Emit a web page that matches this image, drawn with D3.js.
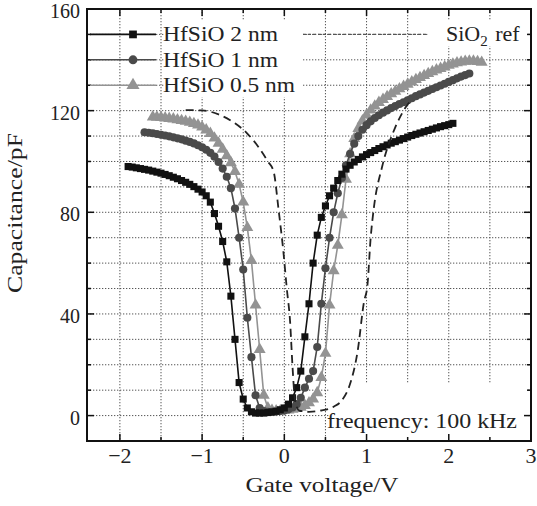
<!DOCTYPE html>
<html>
<head>
<meta charset="utf-8">
<script src="https://d3js.org/d3.v7.min.js"></script>
<style>
    body { margin: 0; background: #fff; }
    text { font-family: "Liberation Serif", "Times New Roman", serif; fill: #222; }
    .grid line { stroke: #555; stroke-width: 1; stroke-dasharray: 1.3, 1.7; }
    .frame { fill: none; stroke: #111; stroke-width: 2; }
    .tick { stroke: #111; stroke-width: 1.5; }
</style>
</head>
<body>
<div id="chart"></div>
<script>
var v2nm = [-1.90,-1.85,-1.80,-1.75,-1.70,-1.65,-1.60,-1.55,-1.50,-1.45,-1.40,-1.35,-1.30,-1.25,-1.20,-1.15,-1.10,-1.05,-1.00,-0.95,-0.90,-0.85,-0.80,-0.75,-0.70,-0.65,-0.60,-0.55,-0.50,-0.45,-0.40,-0.35,-0.30,-0.25,-0.20,-0.15,-0.10,-0.05,0.00,0.05,0.10,0.15,0.20,0.25,0.30,0.35,0.40,0.45,0.50,0.55,0.60,0.65,0.70,0.75,0.80,0.85,0.90,0.95,1.00,1.05,1.10,1.15,1.20,1.25,1.30,1.35,1.40,1.45,1.50,1.55,1.60,1.65,1.70,1.75,1.80,1.85,1.90,1.95,2.00,2.05];
var c2nm = [98.0,97.8,97.5,97.2,96.9,96.6,96.2,95.8,95.4,94.9,94.4,93.8,93.2,92.5,91.8,91.0,90.1,89.1,88.0,86.5,84.0,79.5,74.5,68.5,60.5,47.0,30.0,13.0,6.5,3.0,1.5,1.0,1.0,1.0,1.2,1.4,1.7,2.3,3.0,4.5,7.0,11.0,17.5,31.0,44.0,60.0,71.0,78.0,82.5,86.5,89.5,92.5,95.0,97.0,98.5,99.8,100.8,101.8,102.7,103.5,104.3,105.1,105.8,106.5,107.2,107.8,108.4,109.0,109.6,110.2,110.7,111.2,111.7,112.2,112.7,113.2,113.7,114.1,114.5,115.0];

var v1nm = [-1.70,-1.65,-1.60,-1.55,-1.50,-1.45,-1.40,-1.35,-1.30,-1.25,-1.20,-1.15,-1.10,-1.05,-1.00,-0.95,-0.90,-0.85,-0.80,-0.75,-0.70,-0.65,-0.60,-0.55,-0.50,-0.45,-0.40,-0.35,-0.30,-0.25,-0.20,-0.15,-0.10,-0.05,0.00,0.05,0.10,0.15,0.20,0.25,0.30,0.35,0.40,0.45,0.50,0.55,0.60,0.65,0.70,0.75,0.80,0.85,0.90,0.95,1.00,1.05,1.10,1.15,1.20,1.25,1.30,1.35,1.40,1.45,1.50,1.55,1.60,1.65,1.70,1.75,1.80,1.85,1.90,1.95,2.00,2.05,2.10,2.15,2.20,2.25];
var c1nm = [111.5,111.3,111.1,110.8,110.5,110.2,109.9,109.5,109.1,108.7,108.2,107.7,107.1,106.4,105.6,104.6,103.4,101.9,99.8,97.2,94.0,89.5,81.5,70.0,57.5,38.5,23.0,8.0,3.0,1.8,1.5,1.5,1.6,1.8,2.0,2.5,3.2,4.5,7.0,11.0,14.5,17.5,27.0,44.0,58.0,70.0,80.0,87.5,93.5,98.5,103.0,107.0,110.0,112.5,114.3,115.8,117.1,118.2,119.2,120.1,121.0,121.8,122.6,123.3,124.1,124.9,125.7,126.4,127.1,127.8,128.5,129.2,129.9,130.6,131.3,132.0,132.7,133.4,134.0,134.6];

var v05nm = [-1.60,-1.55,-1.50,-1.45,-1.40,-1.35,-1.30,-1.25,-1.20,-1.15,-1.10,-1.05,-1.00,-0.95,-0.90,-0.85,-0.80,-0.75,-0.70,-0.65,-0.60,-0.55,-0.50,-0.45,-0.40,-0.35,-0.30,-0.25,-0.20,-0.15,-0.10,-0.05,0.00,0.05,0.10,0.15,0.20,0.25,0.30,0.35,0.40,0.45,0.50,0.55,0.60,0.65,0.70,0.75,0.80,0.85,0.90,0.95,1.00,1.05,1.10,1.15,1.20,1.25,1.30,1.35,1.40,1.45,1.50,1.55,1.60,1.65,1.70,1.75,1.80,1.85,1.90,1.95,2.00,2.05,2.10,2.15,2.20,2.25,2.30,2.35,2.40];
var c05nm = [117.5,117.4,117.3,117.1,116.9,116.7,116.4,116.1,115.8,115.4,114.9,114.3,113.5,112.4,111.0,109.2,107.2,104.8,102.2,99.5,96.0,91.0,84.0,74.0,61.0,43.5,26.0,8.0,3.0,2.0,1.8,1.8,2.0,2.2,2.5,2.8,3.3,4.0,5.0,6.5,9.0,15.0,24.5,43.5,57.0,67.0,79.0,93.0,103.0,109.0,113.0,116.0,118.3,120.2,121.8,123.2,124.4,125.5,126.6,127.6,128.6,129.5,130.4,131.3,132.2,133.0,133.8,134.6,135.3,136.0,136.6,137.2,137.8,138.3,138.8,139.1,139.4,139.5,139.5,139.3,139.0];

var vRef = [-1.20,-1.00,-0.80,-0.60,-0.45,-0.30,-0.20,-0.13,-0.07,-0.01,0.03,0.07,0.10,0.13,0.18,0.30,0.45,0.60,0.70,0.80,0.89,0.97,1.01,1.05,1.09,1.19,1.35,1.48,1.55];
var cRef = [120.2,120.1,118.5,115.0,111.0,105.0,100.0,96.0,81.0,64.0,50.0,37.0,19.0,6.0,2.0,1.5,2.0,3.5,6.0,12.5,25.0,45.0,51.0,70.0,82.0,98.0,113.5,121.5,124.5];

var xTicks = [-2, -1, 0, 1, 2, 3];
var yTicks = [0, 40, 80, 120, 160];
var seriesNames = ["HfSiO 2 nm", "HfSiO 1 nm", "HfSiO 0.5 nm"];

var margin = { top: 9, right: 6, bottom: 65, left: 87 },
    width = 537 - margin.left - margin.right,
    height = 506 - margin.top - margin.bottom;

var svg = d3.select("#chart").append("svg")
    .attr("width", 537)
    .attr("height", 506)
    .append("g")
    .attr("transform", "translate(" + margin.left + "," + margin.top + ")");

var x = d3.scaleLinear().domain([-2.4, 3.0]).range([0, width]);
var y = d3.scaleLinear().domain([-10, 160]).range([height, 0]);

function zip(vs, cs) {
    return vs.map(function (v, i) { return { v: v, c: cs[i] }; });
}

// stretched text, the original uses a wider serif face
function label(sel, w) {
    return sel.attr("textLength", w).attr("lengthAdjust", "spacingAndGlyphs");
}

// dotted grid every 0.5 V / 10 pF
var grid = svg.append("g").attr("class", "grid");
grid.selectAll(".gx").data(d3.range(-2, 3.01, 0.5)).enter().append("line")
    .attr("x1", function (d) { return x(d); }).attr("x2", function (d) { return x(d); })
    .attr("y1", 0).attr("y2", height);
grid.selectAll(".gy").data(d3.range(0, 160.1, 10)).enter().append("line")
    .attr("y1", function (d) { return y(d); }).attr("y2", function (d) { return y(d); })
    .attr("x1", 0).attr("x2", width);

// white boxes behind the texts
svg.append("rect").attr("x", 77).attr("y", 12).attr("width", 138).attr("height", 76).attr("fill", "#fff");
svg.append("rect").attr("x", 341).attr("y", 12).attr("width", 100).attr("height", 25).attr("fill", "#fff");
svg.append("rect").attr("x", 243).attr("y", 375).attr("width", 198).attr("height", 56).attr("fill", "#fff");

var series = [
    { name: seriesNames[2], data: zip(v05nm, c05nm), color: "#939393", sym: d3.symbolTriangle, size: 62, w: 132 },
    { name: seriesNames[1], data: zip(v1nm, c1nm), color: "#4a4a4a", sym: d3.symbolCircle, size: 52, w: 115 },
    { name: seriesNames[0], data: zip(v2nm, c2nm), color: "#111", sym: d3.symbolSquare, size: 50, w: 115 }
];

var line = d3.line()
    .x(function (d) { return x(d.v); })
    .y(function (d) { return y(d.c); });

series.forEach(function (s) {
    svg.append("path")
        .datum(s.data)
        .attr("fill", "none")
        .attr("stroke", s.color)
        .attr("stroke-width", 1.6)
        .attr("d", line);
    svg.append("g").selectAll("path")
        .data(s.data).enter().append("path")
        .attr("transform", function (d) { return "translate(" + x(d.v) + "," + y(d.c) + ")"; })
        .attr("d", d3.symbol().type(s.sym).size(s.size))
        .attr("fill", s.color);
});

// SiO2 reference, dashed
svg.append("path")
    .datum(zip(vRef, cRef))
    .attr("fill", "none")
    .attr("stroke", "#222")
    .attr("stroke-width", 1.8)
    .attr("stroke-dasharray", "8,5")
    .attr("d", line.curve(d3.curveMonotoneX));
line.curve(d3.curveLinear);

// frame + inward ticks on all four sides
svg.append("rect").attr("class", "frame").attr("width", width).attr("height", height);
var xMinor = d3.range(-2, 3.01, 0.5), yMinor = d3.range(0, 160.1, 10);
xMinor.forEach(function (d) {
    var len = xTicks.indexOf(d) >= 0 ? 7 : 4;
    svg.append("line").attr("class", "tick").attr("x1", x(d)).attr("x2", x(d)).attr("y1", height).attr("y2", height - len);
    svg.append("line").attr("class", "tick").attr("x1", x(d)).attr("x2", x(d)).attr("y1", 0).attr("y2", len);
});
yMinor.forEach(function (d) {
    var len = yTicks.indexOf(d) >= 0 ? 7 : 4;
    svg.append("line").attr("class", "tick").attr("y1", y(d)).attr("y2", y(d)).attr("x1", 0).attr("x2", len);
    svg.append("line").attr("class", "tick").attr("y1", y(d)).attr("y2", y(d)).attr("x1", width).attr("x2", width - len);
});

// tick labels
svg.selectAll(".xl").data(xTicks).enter().append("text")
    .attr("x", function (d) { return x(d); })
    .attr("y", height + 22)
    .attr("text-anchor", "middle")
    .style("font-size", "22px")
    .text(function (d) { return d < 0 ? "\u2212" + Math.abs(d) : d; });
svg.selectAll(".yl").data(yTicks).enter().append("text")
    .attr("x", -7)
    .attr("y", function (d) { return y(d) + 9; })
    .attr("text-anchor", "end")
    .style("font-size", "20px")
    .text(function (d) { return d; });

// axis titles
label(svg.append("text")
    .attr("x", 235).attr("y", height + 51)
    .attr("text-anchor", "middle")
    .style("font-size", "22px")
    .text("Gate voltage/V"), 153);
label(svg.append("text")
    .attr("transform", "translate(-65," + (height / 2 - 12) + ") rotate(-90)")
    .attr("text-anchor", "middle")
    .style("font-size", "22px")
    .text("Capacitance/pF"), 160);

// legend
var legendRows = [150, 140, 130];
[series[2], series[1], series[0]].forEach(function (s, i) {
    var ly = y(legendRows[i]);
    svg.append("line").attr("x1", 3).attr("x2", 69).attr("y1", ly).attr("y2", ly)
        .attr("stroke", s.color).attr("stroke-width", 1.6);
    svg.append("path").attr("transform", "translate(46," + ly + ")")
        .attr("d", d3.symbol().type(s.sym).size(s.size * 1.2)).attr("fill", s.color);
    label(svg.append("text").attr("x", 76).attr("y", ly + 7)
        .style("font-size", "22px").text(s.name), s.w);
});
var ry = y(legendRows[0]);
svg.append("line").attr("x1", 216).attr("x2", 340).attr("y1", ry).attr("y2", ry)
    .attr("stroke", "#555").attr("stroke-width", 1.2).attr("stroke-dasharray", "3,2");
var ref = svg.append("text").attr("x", 359).attr("y", ry + 7).style("font-size", "22px");
ref.append("tspan").text("SiO");
ref.append("tspan").attr("dy", 5).style("font-size", "15px").text("2");
ref.append("tspan").attr("dy", -5).attr("dx", 2).text(" ref");

label(svg.append("text")
    .attr("x", 240).attr("y", 419)
    .style("font-size", "22px")
    .text("frequency: 100 kHz"), 190);
</script>
</body>
</html>
